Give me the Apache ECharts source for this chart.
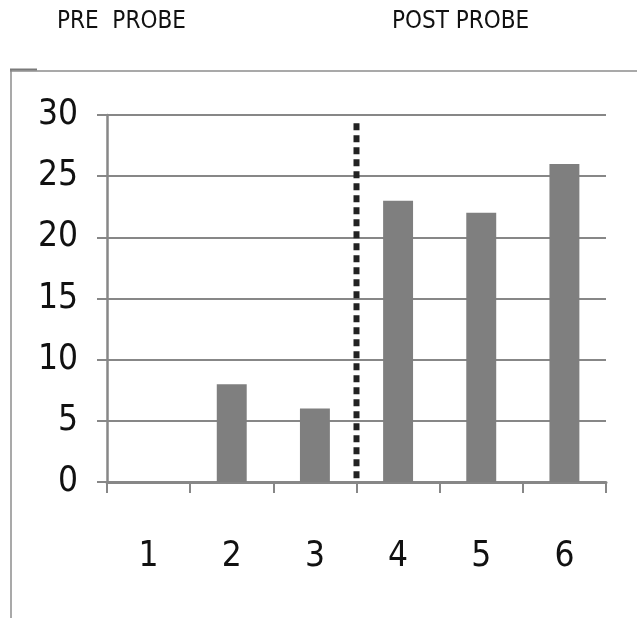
<!DOCTYPE html>
<html>
<head>
<meta charset="utf-8">
<script src="https://cdn.jsdelivr.net/npm/echarts@6/dist/echarts.min.js"></script>
<style>
  html, body { margin: 0; padding: 0; background: #fff; }
  #chart { width: 637px; height: 618px; }
</style>
</head>
<body>
<div id="chart"></div>
<script>
// data
const categories = ['1', '2', '3', '4', '5', '6'];
const scores = [0, 8, 6, 23, 22, 26];
const phaseLabels = ['PRE  PROBE', 'POST PROBE'];
const dividerAt = 3.5; // between session 3 and 4
const yTicks = { min: 0, max: 30, interval: 5 };

const font = '"Liberation Sans Narrow", "DejaVu Sans Condensed", "Open Sans", sans-serif';
const gray = '#878787';

let myChart = echarts.init(document.getElementById('chart'));
myChart.setOption({
    animation: false,
    grid: { left: 107, right: 31, top: 115, bottom: 136 },
    graphic: [
        // frame of the pasted picture
        { type: 'line', shape: { x1: 10, y1: 71, x2: 637, y2: 71 }, style: { stroke: '#8c8c8c', lineWidth: 1.5 } },
        { type: 'line', shape: { x1: 11, y1: 69, x2: 11, y2: 618 }, style: { stroke: '#8c8c8c', lineWidth: 1.5 } },
        { type: 'line', shape: { x1: 10, y1: 69.5, x2: 37, y2: 69.5 }, style: { stroke: '#7a7a7a', lineWidth: 2 } },
        { type: 'text', left: 57, top: 10, style: { text: phaseLabels[0], font: '24px ' + font, fill: '#111' } },
        { type: 'text', left: 392, top: 10, style: { text: phaseLabels[1], font: '24px ' + font, fill: '#111' } }
    ],
    xAxis: [{
        type: 'category',
        data: categories,
        axisLine: { lineStyle: { color: gray, width: 3 } },
        axisTick: { show: true, length: 11, lineStyle: { color: gray, width: 2 } },
        axisLabel: { color: '#111', fontSize: 35, fontFamily: font, margin: 57 }
    }, {
        type: 'value',
        min: 0.5,
        max: 6.5,
        show: false
    }],
    yAxis: {
        type: 'value',
        min: yTicks.min,
        max: yTicks.max,
        interval: yTicks.interval,
        axisLine: { show: true, lineStyle: { color: gray, width: 2.5 } },
        axisTick: { show: true, length: 10, lineStyle: { color: gray, width: 2 } },
        axisLabel: { color: '#111', fontSize: 35, fontFamily: font, margin: 29 },
        splitLine: { lineStyle: { color: gray, width: 2 } }
    },
    series: [{
        type: 'bar',
        data: scores,
        barWidth: '36%',
        itemStyle: { color: '#7f7f7f' }
    }, {
        type: 'line',
        xAxisIndex: 1,
        data: [[dividerAt, 0.3], [dividerAt, 29.6]],
        symbol: 'none',
        lineStyle: { color: '#222', width: 6, type: [7, 5] },
        z: 5
    }]
});
</script>
</body>
</html>
